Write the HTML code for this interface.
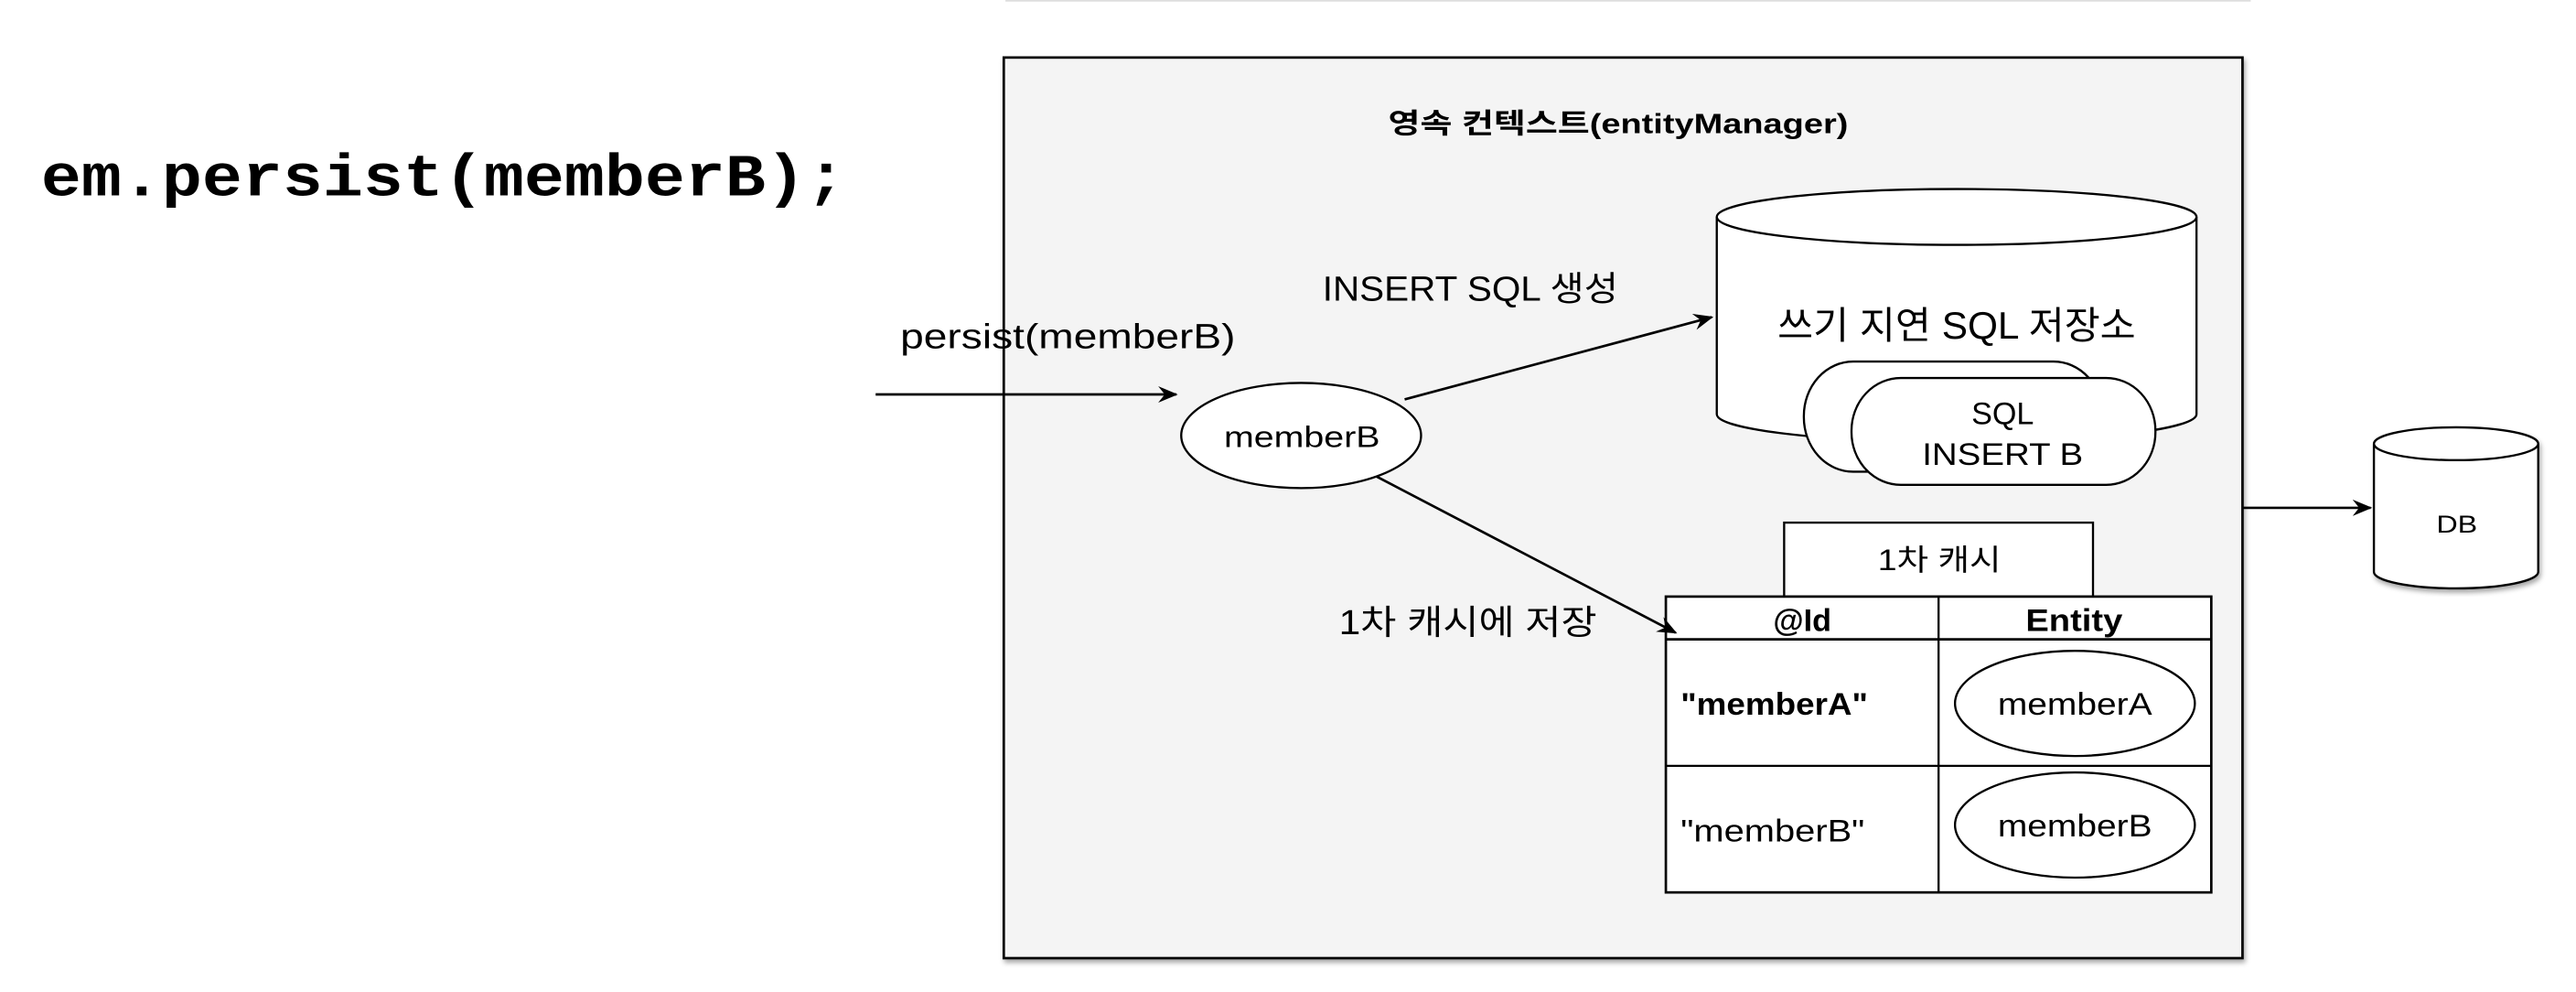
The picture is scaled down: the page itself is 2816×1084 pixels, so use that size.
<!DOCTYPE html>
<html><head><meta charset="utf-8"><style>
html,body{margin:0;padding:0;background:#fff;width:2816px;height:1084px;overflow:hidden}
svg{display:block}
text{font-family:"Liberation Sans","Noto Sans CJK KR",sans-serif;fill:#000}
</style></head><body>
<svg width="2816" height="1084" viewBox="0 0 1568 603.6" preserveAspectRatio="none" xmlns="http://www.w3.org/2000/svg">
<defs>
<marker id="ah" markerWidth="12" markerHeight="10" refX="11" refY="5" orient="auto" markerUnits="userSpaceOnUse">
<path d="M0,0 L12,5 L0,10 L4,5 Z" fill="#000"/>
</marker>
<filter id="sh" x="-5%" y="-5%" width="110%" height="110%"><feDropShadow dx="1" dy="2" stdDeviation="1.5" flood-opacity="0.35"/></filter>
</defs>
<line x1="612" y1="0.5" x2="1370" y2="0.5" stroke="#ddd" stroke-width="1"/>
<text x="25" y="119" textLength="490" lengthAdjust="spacingAndGlyphs" style="font-family:'Liberation Mono',monospace;font-weight:bold;font-size:36px">em.persist(memberB);</text>

<rect x="611" y="35" width="754" height="548" fill="#f4f4f4" stroke="#000" stroke-width="1.5" filter="url(#sh)"/>
<text x="845" y="81" textLength="280" lengthAdjust="spacingAndGlyphs" font-size="17" font-weight="bold">영속 컨텍스트(entityManager)</text>

<text x="548" y="212" textLength="204" lengthAdjust="spacingAndGlyphs" font-size="21">persist(memberB)</text>
<line x1="533" y1="240" x2="716" y2="240" stroke="#000" stroke-width="1.5" marker-end="url(#ah)"/>
<ellipse cx="792" cy="265" rx="73" ry="32" fill="#fff" stroke="#000" stroke-width="1.3"/>
<text x="745" y="272" textLength="95" lengthAdjust="spacingAndGlyphs" font-size="18">memberB</text>

<text x="805" y="183" textLength="180" lengthAdjust="spacingAndGlyphs" font-size="21">INSERT SQL 생성</text>
<line x1="855" y1="243" x2="1042" y2="193" stroke="#000" stroke-width="1.5" marker-end="url(#ah)"/>

<path d="M1045,132 L1045,252 A146,17 0 0 0 1337,252 L1337,132" fill="#fff" stroke="#000" stroke-width="1.3"/>
<ellipse cx="1191" cy="132" rx="146" ry="17" fill="#fff" stroke="#000" stroke-width="1.3"/>
<text x="1082" y="206" textLength="218" lengthAdjust="spacingAndGlyphs" font-size="23">쓰기 지연 SQL 저장소</text>
<rect x="1098" y="220" width="182" height="67" rx="30" ry="33" fill="#fff" stroke="#000" stroke-width="1.3"/>
<rect x="1127" y="230" width="185" height="65" rx="30" ry="32" fill="#fff" stroke="#000" stroke-width="1.3"/>
<text x="1219" y="258" text-anchor="middle" font-size="19">SQL</text>
<text x="1170" y="283" textLength="98" lengthAdjust="spacingAndGlyphs" font-size="19">INSERT B</text>

<rect x="1086" y="318" width="188" height="45" fill="#fff" stroke="#000" stroke-width="1.3"/>
<text x="1143" y="347" textLength="75" lengthAdjust="spacingAndGlyphs" font-size="18">1차 캐시</text>
<rect x="1014" y="363" width="332" height="180" fill="#fff" stroke="#000" stroke-width="1.5"/>
<line x1="1014" y1="389" x2="1346" y2="389" stroke="#000" stroke-width="1.5"/>
<line x1="1014" y1="466" x2="1346" y2="466" stroke="#000" stroke-width="1.3"/>
<line x1="1180" y1="363" x2="1180" y2="543" stroke="#000" stroke-width="1.3"/>
<text x="1097" y="384" text-anchor="middle" font-size="19" font-weight="bold">@Id</text>
<text x="1233" y="384" textLength="59" lengthAdjust="spacingAndGlyphs" font-size="19" font-weight="bold">Entity</text>
<text x="1023" y="435" textLength="114" lengthAdjust="spacingAndGlyphs" font-size="19" font-weight="bold">"memberA"</text>
<text x="1023" y="512" textLength="112" lengthAdjust="spacingAndGlyphs" font-size="19">"memberB"</text>
<ellipse cx="1263" cy="428" rx="73" ry="32" fill="#fff" stroke="#000" stroke-width="1.3"/>
<text x="1216" y="435" textLength="94" lengthAdjust="spacingAndGlyphs" font-size="19">memberA</text>
<ellipse cx="1263" cy="502" rx="73" ry="32" fill="#fff" stroke="#000" stroke-width="1.3"/>
<text x="1216" y="509" textLength="94" lengthAdjust="spacingAndGlyphs" font-size="19">memberB</text>

<line x1="838" y1="290" x2="1020" y2="385" stroke="#000" stroke-width="1.5" marker-end="url(#ah)"/>
<text x="815" y="386" textLength="157" lengthAdjust="spacingAndGlyphs" font-size="21">1차 캐시에 저장</text>

<line x1="1365" y1="309" x2="1443" y2="309" stroke="#000" stroke-width="1.5" marker-end="url(#ah)"/>
<g filter="url(#sh)">
<path d="M1445,270 L1445,348 A50,10 0 0 0 1545,348 L1545,270" fill="#fff" stroke="#000" stroke-width="1.3"/>
<ellipse cx="1495" cy="270" rx="50" ry="10" fill="#fff" stroke="#000" stroke-width="1.3"/>
</g>
<text x="1483" y="324" textLength="25" lengthAdjust="spacingAndGlyphs" font-size="15">DB</text>
</svg>
</body></html>
